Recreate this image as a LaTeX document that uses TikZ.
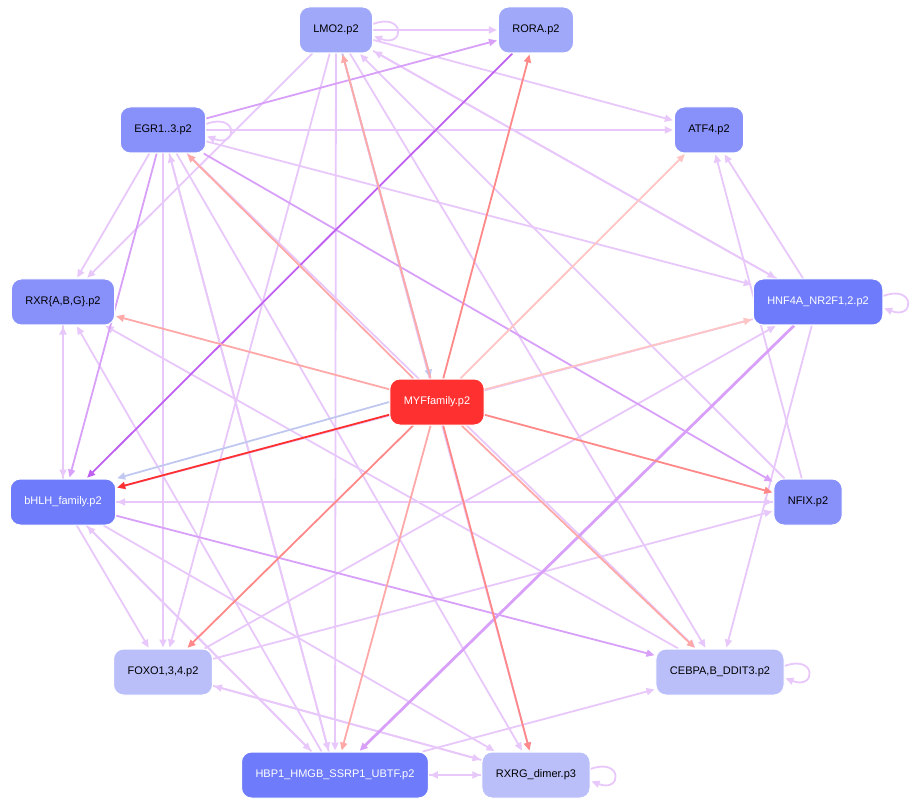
\documentclass[tikz,border=0pt]{standalone}
\usepackage{fontspec}
\setmainfont{Liberation Sans}
\usetikzlibrary{arrows.meta,backgrounds}
\definecolor{bA}{HTML}{6E7BFA}
\definecolor{bB}{HTML}{8890FA}
\definecolor{bC}{HTML}{A0A8FA}
\definecolor{bD}{HTML}{BABFFA}
\definecolor{lila}{HTML}{E8C8FA}
\definecolor{mauve}{HTML}{D8A0F8}
\definecolor{violet}{HTML}{C060F0}
\definecolor{rose}{HTML}{FF8888}
\definecolor{blush}{HTML}{FFA8A8}
\definecolor{pale}{HTML}{FFC4C4}
\definecolor{sky}{HTML}{C0C8F0}
\definecolor{hot}{HTML}{FF3030}
\begin{document}
\begin{tikzpicture}[x=1pt,y=-1pt,
    tf/.style={rounded corners=10pt, draw=white, line width=1pt, minimum height=46pt,
      inner xsep=14pt, font=\fontsize{11}{12}\selectfont},
    e/.style={-{Triangle[length=8pt,width=7pt]}, line width=1.8pt, draw=lila, shorten >=1pt}]
  \useasboundingbox (0,0) rectangle (911,805);
  \node [tf, fill=bC]              (lmo)  at (336, 30) {LMO2.p2};
  \node [tf, fill=bC]              (rora) at (536, 30) {RORA.p2};
  \node [tf, fill=bB]              (egr)  at (163,130) {EGR1..3.p2};
  \node [tf, fill=bB]              (atf)  at (709,130) {ATF4.p2};
  \node [tf, fill=bB]              (rxr)  at ( 63,302) {RXR\{A,B,G\}.p2};
  \node [tf, fill=bA, text=white]  (hnf)  at (818,302) {HNF4A\_NR2F1,2.p2};
  \node [tf, fill=hot, text=white] (myf)  at (437,402) {MYFfamily.p2};
  \node [tf, fill=bA, text=white]  (bhlh) at ( 63,502) {bHLH\_family.p2};
  \node [tf, fill=bB]              (nfix) at (808,502) {NFIX.p2};
  \node [tf, fill=bD]              (foxo) at (163,672) {FOXO1,3,4.p2};
  \node [tf, fill=bD]              (cebp) at (720,672) {CEBPA,B\_DDIT3.p2};
  \node [tf, fill=bA, text=white]  (hbp)  at (335,775) {HBP1\_HMGB\_SSRP1\_UBTF.p2};
  \node [tf, fill=bD]              (rxrg) at (536,775) {RXRG\_dimer.p3};
  \begin{pgfonlayer}{background}
  % purple regulators
  \foreach \s/\t in {lmo/rora, lmo/atf, lmo/hnf, lmo/rxr, lmo/foxo, lmo/cebp, lmo/rxrg,
      lmo/hbp, egr/atf, egr/hnf, egr/rxr, egr/foxo, egr/cebp, egr/rxrg, egr/hbp,
      rxr/bhlh, bhlh/rxr, bhlh/nfix, nfix/bhlh, bhlh/rxrg, foxo/nfix, foxo/rxrg, rxrg/foxo,
      hnf/bhlh, hnf/cebp, hnf/atf, hnf/lmo, nfix/atf, nfix/lmo, cebp/rxr, hbp/rxrg,
      rxrg/hbp, hbp/rxr, hbp/bhlh, hbp/cebp, bhlh/hbp, foxo/hnf, hbp/egr, bhlh/foxo}
    \draw [e] (\s) -- (\t);
  \draw [e, draw=mauve] (egr) -- (rora);
  \draw [e, draw=mauve] (egr) -- (bhlh);
  \draw [e, draw=mauve] (egr) -- (nfix);
  \draw [e, draw=mauve] (bhlh) -- (cebp);
  \draw [e, draw=mauve, line width=2.8pt] (hnf) -- (hbp);
  \draw [e, draw=violet] (rora) -- (bhlh);
  \draw [e, draw=sky] (lmo) -- (myf);
  \draw [e, draw=sky] (myf.west) -- (bhlh.north east);
  % self loops
  \foreach \n in {lmo, egr, hnf, cebp, rxrg}
    \draw [e] ([yshift=6pt]\n.east) .. controls +(32,-12) and +(32,12) .. ([yshift=-6pt]\n.east);
  % MYFfamily targets
  \foreach \t/\c in {rora/rose, lmo/blush, egr/blush, rxr/blush, atf/pale, hnf/pale,
      nfix/rose, cebp/blush, foxo/rose, hbp/blush, rxrg/rose}
    \draw [e, draw=\c] (myf) -- (\t);
  \draw [e, draw=hot] (myf) -- (bhlh);
  \end{pgfonlayer}
\end{tikzpicture}
\end{document}
